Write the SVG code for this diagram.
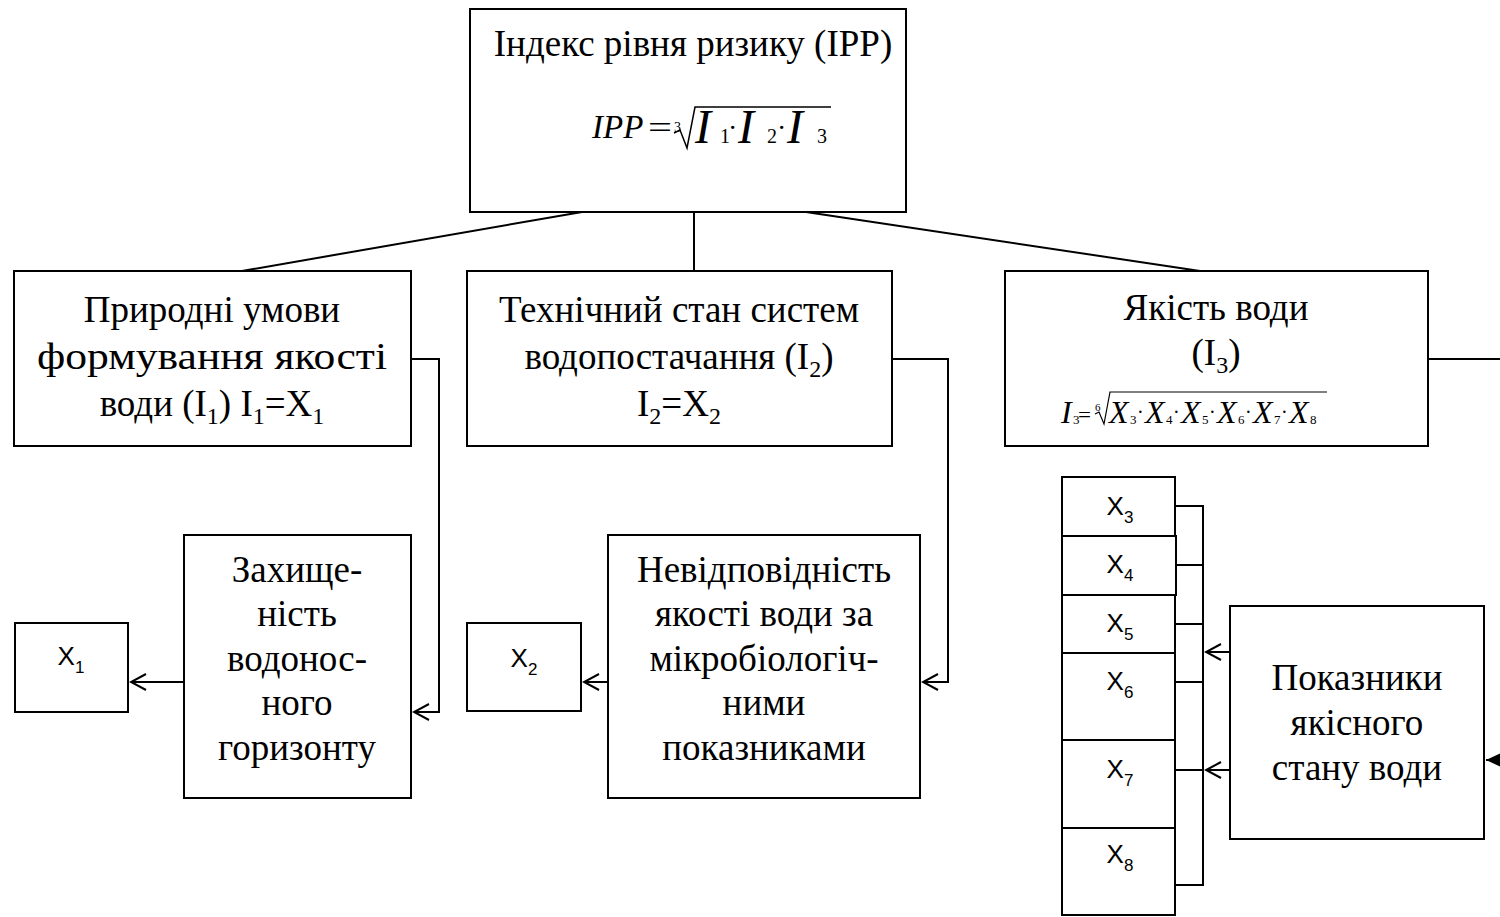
<svg xmlns="http://www.w3.org/2000/svg" width="1500" height="917" viewBox="0 0 1500 917">
<style>
.box{fill:#fff;stroke:#000;stroke-width:2}
.ln{fill:none;stroke:#000;stroke-width:2}
.t{font-family:"Liberation Serif","Times New Roman",serif;font-size:37px;fill:#000;text-anchor:middle}
.x{font-family:"Liberation Sans",Arial,sans-serif;font-size:26px;fill:#000;text-anchor:middle}
.m{font-family:"Liberation Serif","Times New Roman",serif;fill:#000}
.i{font-style:italic}
</style>
<defs>
<marker id="open" markerUnits="userSpaceOnUse" viewBox="-16 -9 18 18" markerWidth="18" markerHeight="18" refX="0" refY="0" orient="auto">
<path d="M-15,-8 L0,0 L-15,8" fill="none" stroke="#000" stroke-width="2"/>
</marker>
<marker id="fill" markerUnits="userSpaceOnUse" viewBox="-16 -9 18 18" markerWidth="18" markerHeight="18" refX="0" refY="0" orient="auto">
<path d="M-15,-7 L0,0 L-15,7 Z" fill="#000" stroke="none"/>
</marker>
</defs>
<rect width="1500" height="917" fill="#fff"/>

<g id="connectors">
<line class="ln" x1="582" y1="212" x2="242" y2="271"/>
<line class="ln" x1="694" y1="212" x2="694" y2="271"/>
<line class="ln" x1="806" y1="212" x2="1200" y2="271"/>
<polyline class="ln" points="411,359 439,359 439,712 414,712" marker-end="url(#open)"/>
<polyline class="ln" points="892,359 948,359 948,682 923,682" marker-end="url(#open)"/>
<line class="ln" x1="1428" y1="359" x2="1500" y2="359"/>
<line class="ln" x1="184" y1="682" x2="131" y2="682" marker-end="url(#open)"/>
<line class="ln" x1="608" y1="682" x2="584" y2="682" marker-end="url(#open)"/>
<line class="ln" x1="1203" y1="505" x2="1203" y2="886"/>
<line class="ln" x1="1175" y1="506" x2="1203" y2="506"/>
<line class="ln" x1="1175" y1="565" x2="1203" y2="565"/>
<line class="ln" x1="1175" y1="624" x2="1203" y2="624"/>
<line class="ln" x1="1175" y1="682" x2="1203" y2="682"/>
<line class="ln" x1="1175" y1="770" x2="1203" y2="770"/>
<line class="ln" x1="1175" y1="885" x2="1203" y2="885"/>
<line class="ln" x1="1230" y1="652" x2="1206" y2="652" marker-end="url(#open)"/>
<line class="ln" x1="1230" y1="770" x2="1206" y2="770" marker-end="url(#open)"/>
<line class="ln" x1="1500" y1="760" x2="1486" y2="760" marker-end="url(#fill)"/>
</g>

<g id="node-ipp">
<rect class="box" x="470" y="9" width="436" height="203"/>
<text class="t" x="693" y="56">Індекс рівня ризику (IPP)</text>
<text class="m i" x="592" y="138" font-size="33">IPP</text>
<text class="m" x="648" y="138" font-size="32" textLength="24" lengthAdjust="spacingAndGlyphs">=</text>
<text class="m" x="674" y="132" font-size="14">3</text>
<polyline points="674,133 680,130 687,148 695,107 831,107" fill="none" stroke="#000" stroke-width="1.5"/>
<text class="m i" x="695" y="143" font-size="48">I</text>
<text class="m" x="720" y="143" font-size="20">1</text>
<text class="m" x="728" y="137" font-size="28">·</text>
<text class="m i" x="738" y="143" font-size="48">I</text>
<text class="m" x="767" y="143" font-size="20">2</text>
<text class="m" x="777" y="137" font-size="28">·</text>
<text class="m i" x="787" y="143" font-size="48">I</text>
<text class="m" x="817" y="143" font-size="20">3</text>
</g>

<g id="node-i1">
<rect class="box" x="14" y="271" width="397" height="175"/>
<text class="t" x="212" y="322">Природні умови</text>
<text class="t" x="212" y="369" textLength="350" lengthAdjust="spacingAndGlyphs">формування якості</text>
<text class="t" x="212" y="416">води (I<tspan font-size="24" dy="8">1</tspan><tspan dy="-8">) I</tspan><tspan font-size="24" dy="8">1</tspan><tspan dy="-8">=X</tspan><tspan font-size="24" dy="8">1</tspan></text>
</g>

<g id="node-i2">
<rect class="box" x="467" y="271" width="425" height="175"/>
<text class="t" x="679" y="322">Технічний стан систем</text>
<text class="t" x="679" y="369">водопостачання (I<tspan font-size="24" dy="8">2</tspan><tspan dy="-8">)</tspan></text>
<text class="t" x="679" y="416">I<tspan font-size="24" dy="8">2</tspan><tspan dy="-8">=X</tspan><tspan font-size="24" dy="8">2</tspan></text>
</g>

<g id="node-i3">
<rect class="box" x="1005" y="271" width="423" height="175"/>
<text class="t" x="1216" y="320">Якість води</text>
<text class="t" x="1216" y="365">(I<tspan font-size="24" dy="8">3</tspan><tspan dy="-8">)</tspan></text>
<text class="m i" x="1061" y="423" font-size="32">I</text>
<text class="m" x="1073" y="424" font-size="13">3</text>
<text class="m" x="1078" y="422" font-size="22" textLength="13" lengthAdjust="spacingAndGlyphs">=</text>
<text class="m" x="1095" y="411" font-size="11">6</text>
<polyline points="1095,414 1099,412 1104,424 1110,392 1327,392" fill="none" stroke="#000" stroke-width="1.2"/>
<text class="m i" x="1109" y="423" font-size="32">X</text>
<text class="m" x="1130" y="424" font-size="13">3</text>
<text class="m" x="1137" y="419" font-size="20">·</text>
<text class="m i" x="1145" y="423" font-size="32">X</text>
<text class="m" x="1166" y="424" font-size="13">4</text>
<text class="m" x="1173" y="419" font-size="20">·</text>
<text class="m i" x="1181" y="423" font-size="32">X</text>
<text class="m" x="1202" y="424" font-size="13">5</text>
<text class="m" x="1209" y="419" font-size="20">·</text>
<text class="m i" x="1217" y="423" font-size="32">X</text>
<text class="m" x="1238" y="424" font-size="13">6</text>
<text class="m" x="1245" y="419" font-size="20">·</text>
<text class="m i" x="1253" y="423" font-size="32">X</text>
<text class="m" x="1274" y="424" font-size="13">7</text>
<text class="m" x="1281" y="419" font-size="20">·</text>
<text class="m i" x="1289" y="423" font-size="32">X</text>
<text class="m" x="1310" y="424" font-size="13">8</text>
</g>

<g id="node-zakhyshchenist">
<rect class="box" x="184" y="535" width="227" height="263"/>
<text class="t" x="297" y="582">Захище-</text>
<text class="t" x="297" y="626">ність</text>
<text class="t" x="297" y="671">водонос-</text>
<text class="t" x="297" y="715">ного</text>
<text class="t" x="297" y="760">горизонту</text>
</g>

<g id="node-x1">
<rect class="box" x="15" y="623" width="113" height="89"/>
<text class="x" x="71" y="665">X<tspan font-size="17" dy="8">1</tspan></text>
</g>

<g id="node-nevidpovidnist">
<rect class="box" x="608" y="535" width="312" height="263"/>
<text class="t" x="764" y="582">Невідповідність</text>
<text class="t" x="764" y="626">якості води за</text>
<text class="t" x="764" y="671">мікробіологіч-</text>
<text class="t" x="764" y="715">ними</text>
<text class="t" x="764" y="760">показниками</text>
</g>

<g id="node-x2">
<rect class="box" x="467" y="623" width="114" height="88"/>
<text class="x" x="524" y="667">X<tspan font-size="17" dy="8">2</tspan></text>
</g>

<g id="node-x3"><rect class="box" x="1062" y="477" width="113" height="59"/><text class="x" x="1120" y="515">X<tspan font-size="17" dy="8">3</tspan></text></g>
<g id="node-x4"><rect class="box" x="1062" y="536" width="114" height="59"/><text class="x" x="1120" y="573">X<tspan font-size="17" dy="8">4</tspan></text></g>
<g id="node-x5"><rect class="box" x="1062" y="595" width="113" height="58"/><text class="x" x="1120" y="632">X<tspan font-size="17" dy="8">5</tspan></text></g>
<g id="node-x6"><rect class="box" x="1062" y="653" width="113" height="87"/><text class="x" x="1120" y="690">X<tspan font-size="17" dy="8">6</tspan></text></g>
<g id="node-x7"><rect class="box" x="1062" y="740" width="113" height="88"/><text class="x" x="1120" y="778">X<tspan font-size="17" dy="8">7</tspan></text></g>
<g id="node-x8"><rect class="box" x="1062" y="828" width="113" height="87"/><text class="x" x="1120" y="863">X<tspan font-size="17" dy="8">8</tspan></text></g>

<g id="node-pokaznyky">
<rect class="box" x="1230" y="606" width="254" height="233"/>
<text class="t" x="1357" y="690">Показники</text>
<text class="t" x="1357" y="735">якісного</text>
<text class="t" x="1357" y="780">стану води</text>
</g>
</svg>
